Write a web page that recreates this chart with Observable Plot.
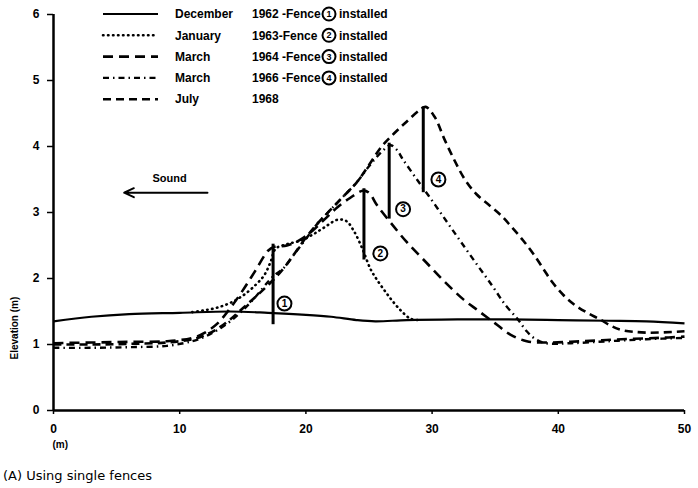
<!DOCTYPE html>
<html>
<head>
<meta charset="utf-8">
<script src="https://cdn.jsdelivr.net/npm/d3@7"></script>
<script src="https://cdn.jsdelivr.net/npm/@observablehq/plot@0.6"></script>
<style>
  html, body { margin: 0; padding: 0; background: #fff; }
  #wrap { position: relative; width: 698px; }
  #legend { position: absolute; left: 0; top: 0; pointer-events: none; }
  #caption { font-family: "DejaVu Sans", sans-serif; font-size: 13px; font-weight: 500; margin: 13px 0 0 3px; color: #000; }
</style>
</head>
<body>
<div id="wrap">
  <div id="chart"></div>
  <svg id="legend" width="698" height="112"></svg>
  <div id="caption">(A) Using single fences</div>
</div>
<script>
// ---- data (distance m, elevation m) ----
const dec1962 = [[0,1.35],[3,1.42],[6,1.46],[10,1.48],[14,1.5],[17,1.48],[20,1.45],[22,1.42],[24,1.37],[25.5,1.35],[28,1.37],[32,1.38],[36,1.38],[40,1.37],[44,1.36],[47,1.35],[50,1.32]];
const jan1963 = [[11,1.49],[12,1.52],[13,1.56],[14,1.63],[15,1.74],[16,1.9],[16.7,2.05],[17.2,2.25],[17.6,2.45],[18.5,2.52],[19.5,2.57],[20.5,2.66],[21.5,2.78],[22.5,2.89],[23.2,2.87],[23.8,2.72],[24.5,2.44],[25.1,2.15],[25.6,1.99],[26.3,1.8],[26.9,1.65],[27.6,1.5],[28.3,1.39],[29,1.37]];
const mar1964 = [[0,1.02],[3,1.03],[6,1.04],[9,1.05],[11,1.1],[12,1.18],[13,1.32],[14,1.55],[15,1.82],[16,2.12],[17,2.42],[17.5,2.48],[18.5,2.5],[19.5,2.58],[20.5,2.72],[21.5,2.9],[22.5,3.08],[23.5,3.22],[24.5,3.33],[25,3.3],[25.6,3.12],[26.7,2.85],[28,2.55],[29.5,2.25],[31,1.95],[32.5,1.68],[33.6,1.52],[35,1.32],[36.2,1.15],[37.5,1.05],[39,1.03],[42,1.05],[45,1.08],[48,1.1],[50,1.12]];
const mar1966 = [[0,0.95],[3,0.95],[6,0.96],[9,0.98],[11,1.05],[12,1.12],[13,1.22],[14,1.35],[15,1.52],[16,1.72],[17,1.95],[17.5,2.05],[18.2,2.15],[19,2.35],[20,2.6],[21,2.85],[22,3.05],[23,3.25],[24,3.45],[25,3.7],[26,3.92],[26.7,4.02],[27.2,3.95],[27.7,3.8],[28.8,3.5],[30,3.18],[31.2,2.85],[32.3,2.55],[33.6,2.2],[34.8,1.88],[35.8,1.6],[36.8,1.38],[37.5,1.2],[38.2,1.08],[39,1.02],[41,1.02],[44,1.05],[47,1.08],[50,1.1]];
const jul1968 = [[0,1.0],[3,1.0],[6,1.01],[9,1.03],[11,1.08],[12,1.14],[13,1.24],[14,1.38],[15,1.55],[16,1.72],[17,1.9],[18,2.1],[19,2.35],[20,2.62],[21,2.85],[22,3.05],[23,3.25],[24,3.45],[25,3.72],[26,4.0],[27,4.2],[28,4.38],[29,4.55],[29.5,4.6],[30.2,4.45],[31,4.1],[31.8,3.78],[32.6,3.5],[33.5,3.28],[34.6,3.1],[35.5,2.95],[36.3,2.78],[37.2,2.58],[38,2.38],[38.8,2.15],[39.5,1.95],[40.4,1.75],[41.3,1.6],[42.3,1.48],[43.3,1.38],[44.2,1.28],[45,1.22],[47,1.18],[50,1.2]];

const fenceX      = [17.4, 24.6, 26.6, 29.3];
const fenceBottom = [1.3, 2.28, 2.9, 3.3];
const fenceTop    = [2.52, 3.36, 4.05, 4.6];
const fenceLabelX = [18.3, 25.9, 27.7, 30.5];
const fenceLabelY = [1.62, 2.38, 3.05, 3.5];
const fenceNames  = ["1", "2", "3", "4"];

const xTicks = [0, 10, 20, 30, 40, 50];
const yTicks = [0, 1, 2, 3, 4, 5, 6];

const soundLabel = ["Sound"];
const soundTextX = [9.2], soundTextY = [3.52];
const soundArrowX1 = [12.2], soundArrowX2 = [5.6], soundArrowY = [3.3];

const legendMonths = ["December", "January", "March", "March", "July"];
const legendYears  = ["1962 -Fence", "1963-Fence", "1964 -Fence", "1966 -Fence", "1968"];
const legendFence  = ["1", "2", "3", "4", null];

// ---- styles ----
const styles = [
  {strokeWidth: 2.2, dash: null, cap: "butt"},
  {strokeWidth: 2.6, dash: "0.5,4.5", cap: "round"},
  {strokeWidth: 2.6, dash: "10,6", cap: "butt"},
  {strokeWidth: 2.4, dash: "6,4,1.5,4", cap: "butt"},
  {strokeWidth: 2.6, dash: "8,5", cap: "butt"}
];
const series = [dec1962, jan1963, mar1964, mar1966, jul1968];

const fences = fenceX.map((x, i) => ({x, y1: fenceBottom[i], y2: fenceTop[i], lx: fenceLabelX[i], ly: fenceLabelY[i], name: fenceNames[i]}));

const font = "Liberation Sans, Arial, sans-serif";

const chart = Plot.plot({
  width: 698,
  height: 455,
  marginLeft: 53,
  marginRight: 14,
  marginTop: 14,
  marginBottom: 45,
  style: {fontFamily: font, fontSize: "11px", fontWeight: "bold", background: "white", color: "black"},
  x: {domain: [0, 50]},
  y: {domain: [0, 6]},
  marks: [
    Plot.axisX({ticks: xTicks, tickFormat: "d", tickSize: 4, tickPadding: 10, label: null, fontSize: 12, fontWeight: "bold", strokeWidth: 1.5}),
    Plot.axisY({ticks: yTicks, tickFormat: "d", tickSize: 6, tickPadding: 8, label: null, fontSize: 12, fontWeight: "bold", strokeWidth: 1.5}),
    Plot.ruleX([0], {strokeWidth: 2.5}),
    Plot.ruleY([0], {strokeWidth: 2.5}),
    ...series.map((s, i) => Plot.line(s, {
      x: d => d[0], y: d => d[1], curve: "catmull-rom",
      stroke: "black", strokeWidth: styles[i].strokeWidth,
      strokeDasharray: styles[i].dash, strokeLinecap: styles[i].cap
    })),
    Plot.ruleX(fences, {x: "x", y1: "y1", y2: "y2", strokeWidth: 3, stroke: "black"}),
    Plot.dot(fences, {x: "lx", y: "ly", r: 7, stroke: "black", strokeWidth: 2, fill: "white"}),
    Plot.text(fences, {x: "lx", y: "ly", text: "name", fontSize: 10, fontWeight: "bold", fill: "black"}),
    Plot.arrow(soundArrowY.map((y, i) => ({x1: soundArrowX1[i], x2: soundArrowX2[i], y})), {
      x1: "x1", x2: "x2", y1: "y", y2: "y", stroke: "black", strokeWidth: 2, headLength: 8, headAngle: 50
    }),
    Plot.text(soundLabel, {x: soundTextX, y: soundTextY, text: d => d, fontSize: 11, fontWeight: "bold"}),
    Plot.text(["Elevation (m)"], {frameAnchor: "left", rotate: -90, dx: -39, dy: 147, fontSize: 10, fontWeight: "bold"}),
    Plot.text(["(m)"], {frameAnchor: "bottom-left", dx: -1, dy: 37, textAnchor: "start", fontSize: 10, fontWeight: "bold"})
  ]
});
document.getElementById("chart").appendChild(chart);

// ---- legend overlay ----
const svg = d3.select("#legend");
const rowY = i => 14 + i * 21.3;
legendMonths.forEach((m, i) => {
  const y = rowY(i);
  const g = svg.append("g").attr("font-family", font).attr("font-weight", "bold").attr("font-size", 12);
  g.append("line").attr("x1", 103).attr("x2", 158).attr("y1", y).attr("y2", y)
    .attr("stroke", "black").attr("stroke-width", styles[i].strokeWidth)
    .attr("stroke-dasharray", styles[i].dash).attr("stroke-linecap", styles[i].cap);
  g.append("text").attr("x", 175).attr("y", y).attr("dy", "0.35em").text(m);
  g.append("text").attr("x", 252).attr("y", y).attr("dy", "0.35em").text(legendYears[i]);
  if (legendFence[i]) {
    g.append("circle").attr("cx", 329).attr("cy", y).attr("r", 6.5).attr("fill", "white").attr("stroke", "black").attr("stroke-width", 2);
    g.append("text").attr("x", 329).attr("y", y).attr("dy", "0.35em").attr("text-anchor", "middle").attr("font-size", 9).text(legendFence[i]);
    g.append("text").attr("x", 339).attr("y", y).attr("dy", "0.35em").text("installed");
  }
});
</script>
</body>
</html>
